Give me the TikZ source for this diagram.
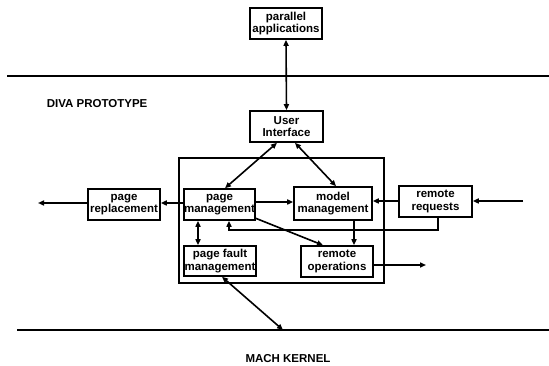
\documentclass[tikz,border=0pt]{standalone}
\usepackage{fontspec}
\setmainfont{Liberation Sans}
\usetikzlibrary{arrows.meta}
\begin{document}
\begin{tikzpicture}[x=1pt,y=-1pt,
  line width=1.6pt,
  >={Triangle[length=6pt,width=5pt]},
  blk/.style={draw,line width=1.6pt,inner sep=0pt,align=center,
    font=\fontsize{11.5}{12.5}\selectfont\bfseries},
  frame/.style={draw,line width=1.6pt,inner sep=0pt},
  lbl/.style={font=\fontsize{11.5}{13}\selectfont\bfseries,inner sep=0pt},
  conn/.style={line width=1.6pt}]
\useasboundingbox (0,0) rectangle (549,366);
% layer lines
\coordinate (tl) at (7,76);
\coordinate (tr) at (549,76);
\coordinate (bl) at (17,330);
\coordinate (br) at (549,330);
\draw[conn] (tl) -- (tr);
\draw[conn] (bl) -- (br);
% labels
\node[lbl,anchor=base west] (diva) at (46,108) {DIVA PROTOTYPE};
\node[lbl,anchor=base] (mach) at (288,362) {MACH KERNEL};
% container
\node[frame,minimum width=205pt,minimum height=125pt] (cont) at (281.5,220.5) {};
% boxes
\node[blk,minimum width=72pt,minimum height=31pt] (par) at (286,23.5) {parallel\\applications};
\node[blk,minimum width=73pt,minimum height=31pt] (ui) at (286.5,126.5) {User\\Interface};
\node[blk,minimum width=71pt,minimum height=31pt] (pm) at (219.5,204.5) {page\\management};
\node[blk,minimum width=72pt,minimum height=31pt] (pr) at (124,204.5) {page\\replacement};
\node[blk,minimum width=72pt,minimum height=30pt] (pfm) at (220,261) {page fault\\management};
\node[blk,minimum width=78pt,minimum height=33pt] (mm) at (333,203.5) {model\\management};
\node[blk,minimum width=73pt,minimum height=31pt] (rr) at (435.5,201.5) {remote\\requests};
\node[blk,minimum width=72pt,minimum height=31pt] (ro) at (337,261.5) {remote\\operations};
% free ends
\coordinate (outL) at (38,203);
\coordinate (inR) at (523,201);
\coordinate (outR) at (426,265);
\coordinate (kern) at (283,330);
% connectors
\draw[conn,<->] (par.south) -- (ui.north);
\draw[conn,<->] (ui.south -| 277,0) -- (pm.north -| 225,0);
\draw[conn,<->] (ui.south -| 295,0) -- (mm.north -| 336,0);
\draw[conn,->] (pm.east |- 0,202) -- (mm.west |- 0,202);
\draw[conn,->] (pm.west |- 0,203) -- (pr.east |- 0,203);
\draw[conn,->] (pr.west |- 0,203) -- (outL);
\draw[conn,->] (rr.west |- 0,201) -- (mm.east |- 0,201);
\draw[conn,->] (inR) -- (rr.east |- inR);
\draw[conn,->] (rr.south -| 438,0) -- (438,230) -- (229,230) -- (pm.south -| 229,0);
\draw[conn,<->] (pm.south -| 198,0) -- (pfm.north -| 198,0);
\draw[conn,->] (255,218) -- (ro.north -| 323,0);
\draw[conn,->] (mm.south -| 354,0) -- (ro.north -| 354,0);
\draw[conn,->] (ro.east |- outR) -- (outR);
\draw[conn,<->] (pfm.south -| 222,0) -- (kern);
\end{tikzpicture}
\end{document}
